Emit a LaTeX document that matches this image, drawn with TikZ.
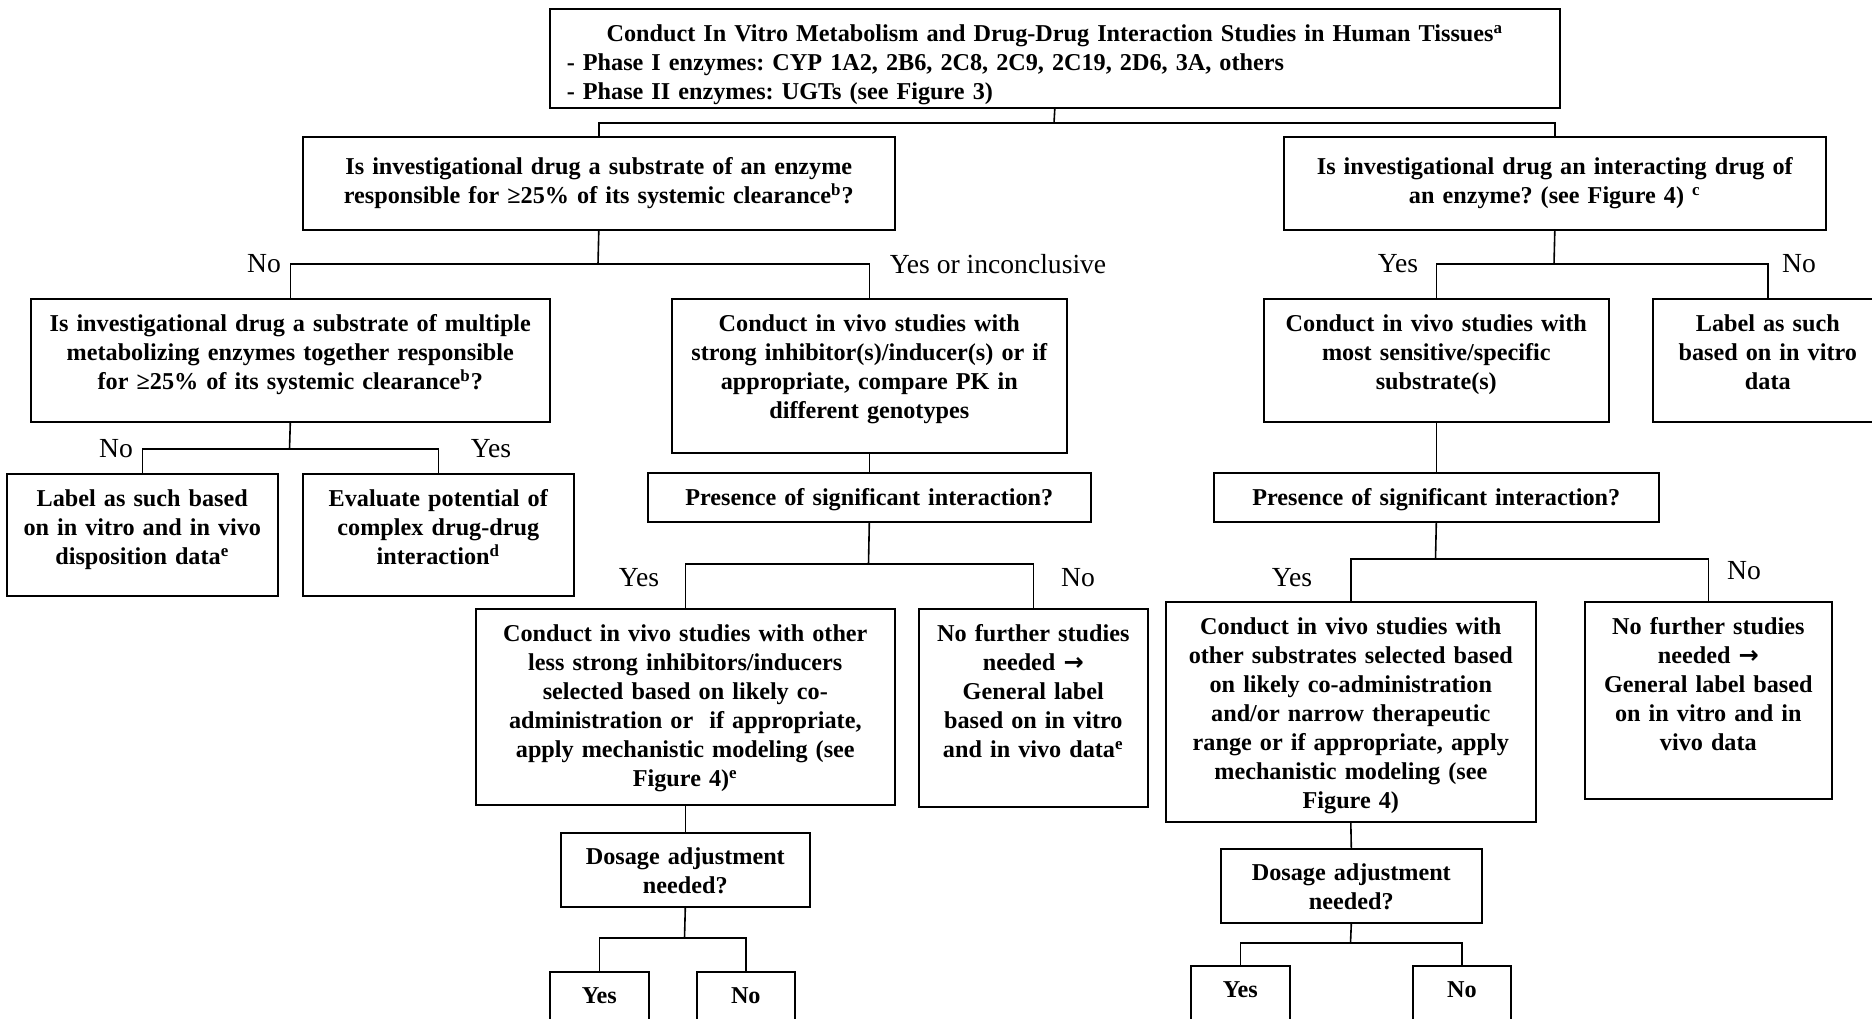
\documentclass[tikz,border=0pt]{standalone}
\usepackage{fontspec}
\setmainfont{Liberation Serif}
\newfontfamily\arrowfont{DejaVu Sans}
\frenchspacing
\newcommand\bxfont{\fontsize{12.1}{14.5}\selectfont\bfseries}
\newcommand\lblfont{\fontsize{13.8}{16}\selectfont}
\newcommand\rarr{{\arrowfont\bfseries →}}
\tikzset{
  bx/.style n args={3}{draw, line width=0.8pt, inner sep=0pt, anchor=north west,
    text width=#1, text height=#3, text depth=#2-#3, align=center, font=\bxfont},
  lbl/.style={inner sep=0pt, font=\lblfont},
  conn/.style={line width=0.8pt}
}
\begin{document}
\begin{tikzpicture}[x=0.5pt,y=-0.5pt]
\useasboundingbox (0,0) rectangle (1872,1018);
% boxes
\node[bx={488pt}{49.5pt}{16.5pt}, inner xsep=8.5pt, align=left] (top) at (549,8)
  {{\centering Conduct In Vitro Metabolism and Drug-Drug Interaction Studies in Human Tissues\textsuperscript{a}\par}- Phase I enzymes: CYP 1A2, 2B6, 2C8, 2C9, 2C19, 2D6, 3A, others\\- Phase II enzymes: UGTs (see Figure 3)};
\node[bx={296pt}{46.5pt}{19pt}] (A) at (302,136)
  {Is investigational drug a substrate of an enzyme\\responsible for ≥25\% of its systemic clearance\textsuperscript{b}?};
\node[bx={271pt}{46.5pt}{19pt}] (B) at (1283,136)
  {Is investigational drug an interacting drug of\\an enzyme? (see Figure 4) \textsuperscript{c}};
\node[bx={259.5pt}{61.5pt}{16.5pt}] (C) at (30,298)
  {Is investigational drug a substrate of multiple\\metabolizing enzymes together responsible\\for ≥25\% of its systemic clearance\textsuperscript{b}?};
\node[bx={197.5pt}{77pt}{16.5pt}] (D) at (671,298)
  {Conduct in vivo studies with\\strong inhibitor(s)/inducer(s) or if\\appropriate, compare PK in\\different genotypes};
\node[bx={135.5pt}{61pt}{16.5pt}] (E) at (6,473)
  {Label as such based\\on in vitro and in vivo\\disposition data\textsuperscript{e}};
\node[bx={135.5pt}{61pt}{16.5pt}] (F) at (302,473)
  {Evaluate potential of\\complex drug-drug\\interaction\textsuperscript{d}};
\node[bx={221.5pt}{24.5pt}{16.5pt}] (G) at (647,472)
  {Presence of significant interaction?};
\node[bx={209.5pt}{98pt}{16.5pt}] (H) at (475,608)
  {Conduct in vivo studies with other\\less strong inhibitors/inducers\\selected based on likely co-\\administration or\ \ if appropriate,\\apply mechanistic modeling (see\\Figure 4)\textsuperscript{e}};
\node[bx={114.5pt}{99pt}{16.5pt}] (I) at (918,608)
  {No further studies\\needed \rarr\\General label\\based on in vitro\\and in vivo data\textsuperscript{e}};
\node[bx={124.5pt}{37pt}{16pt}] (J) at (560,832)
  {Dosage adjustment\\needed?};
\node[bx={49.5pt}{30pt}{16pt}] (Y1) at (549,971) {Yes};
\node[bx={49pt}{30pt}{16pt}] (N1) at (696,971) {No};
\node[bx={172.5pt}{61.5pt}{16.5pt}] (K) at (1263,298)
  {Conduct in vivo studies with\\most sensitive/specific\\substrate(s)};
\node[bx={115pt}{61.5pt}{16.5pt}] (L) at (1652,298)
  {Label as such\\based on in vitro\\data};
\node[bx={222.5pt}{24.5pt}{16.5pt}] (M) at (1213,472)
  {Presence of significant interaction?};
\node[bx={185pt}{110pt}{16.5pt}] (N) at (1165,601)
  {Conduct in vivo studies with\\other substrates selected based\\on likely co-administration\\and/or narrow therapeutic\\range or if appropriate, apply\\mechanistic modeling (see\\Figure 4)};
\node[bx={123.5pt}{98.5pt}{16.5pt}] (O) at (1584,601)
  {No further studies\\needed \rarr\\General label based\\on in vitro and in\\vivo data};
\node[bx={130.5pt}{37pt}{16pt}] (P) at (1220,848)
  {Dosage adjustment\\needed?};
\node[bx={49.5pt}{30pt}{16pt}] (Y2) at (1190,965) {Yes};
\node[bx={49pt}{30pt}{16pt}] (N2) at (1412,965) {No};
% junctions
\coordinate (j0) at (1054,123);
\coordinate (jA) at (598,264);
\coordinate (jC) at (289.5,449);
\coordinate (jG) at (868.5,564);
\coordinate (jJ) at (684.5,938);
\coordinate (jB) at (1554,264);
\coordinate (jM) at (1435.5,559);
\coordinate (jP) at (1350.5,943);
% connectors
\draw[conn] (top.south) -- (j0);
\draw[conn] (A.north) |- (j0) -| (B.north);
\draw[conn] (A.south) -- (jA);
\draw[conn] (C.north) |- (jA) -| (D.north);
\draw[conn] (C.south) -- (jC);
\draw[conn] (E.north) |- (jC) -| (F.north);
\draw[conn] (D.south) -- (G.north);
\draw[conn] (G.south) -- (jG);
\draw[conn] (H.north) |- (jG) -| (I.north);
\draw[conn] (H.south) -- (J.north);
\draw[conn] (J.south) -- (jJ);
\draw[conn] (Y1.north) |- (jJ) -| (N1.north);
\draw[conn] (B.south) -- (jB);
\draw[conn] (K.north) |- (jB) -| (L.north);
\draw[conn] (K.south) -- (M.north);
\draw[conn] (M.south) -- (jM);
\draw[conn] (N.north) |- (jM) -| (O.north);
\draw[conn] (N.south) -- (P.north);
\draw[conn] (P.south) -- (jP);
\draw[conn] (Y2.north) |- (jP) -| (N2.north);
% labels
\node[lbl] (lA1) at (264,264) {No};
\node[lbl] (lA2) at (998,264) {Yes or inconclusive};
\node[lbl] (lC1) at (116,449) {No};
\node[lbl] (lC2) at (491,449) {Yes};
\node[lbl] (lG1) at (639,578) {Yes};
\node[lbl] (lG2) at (1078,578) {No};
\node[lbl] (lB1) at (1398,264) {Yes};
\node[lbl] (lB2) at (1799,264) {No};
\node[lbl] (lM1) at (1292,578) {Yes};
\node[lbl] (lM2) at (1744,571) {No};
\end{tikzpicture}
\end{document}
